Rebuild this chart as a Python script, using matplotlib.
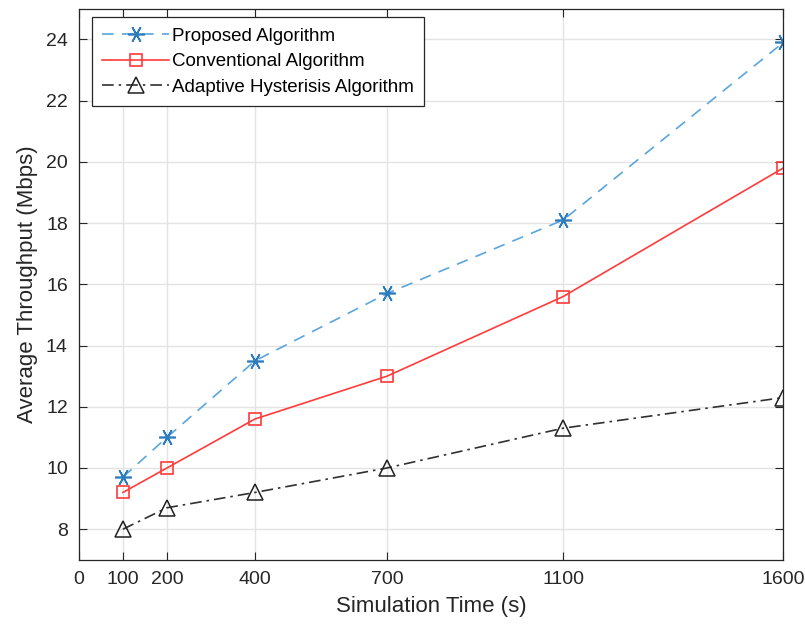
import matplotlib
matplotlib.use('Agg')
import matplotlib.pyplot as plt

plt.rcParams['font.family'] = ['Liberation Sans', 'DejaVu Sans']

sim_time = [100, 200, 400, 700, 1100, 1600]
proposed = [9.7, 11.0, 13.5, 15.7, 18.1, 23.9]
conventional = [9.2, 10.0, 11.6, 13.0, 15.6, 19.8]
adaptive = [8.0, 8.7, 9.2, 10.0, 11.3, 12.3]

xticks = [0, 100, 200, 400, 700, 1100, 1600]
yticks = [8, 10, 12, 14, 16, 18, 20, 22, 24]

fig = plt.figure(figsize=(8.05, 6.29), dpi=100)
ax = fig.add_axes([0.098, 0.110, 0.875, 0.876])

# asterisk marker like matlab '*'
ax.plot(sim_time, proposed, '--', color='#5aa6dc', lw=1.2, dashes=(7, 5),
        marker=(6, 2, 30), ms=12, mec='#2b7bbd', mfc='#2b7bbd', mew=1.2,
        label='Proposed Algorithm')
ax.plot(sim_time, conventional, '-', color='#ff3b3b', lw=1.2,
        marker='s', ms=9, mec='#ff3b3b', mfc='none', mew=1.2,
        label='Conventional Algorithm')
ax.plot(sim_time, adaptive, '-.', color='#303030', lw=1.2, dashes=(7, 3, 1.5, 3),
        marker='^', ms=12, mec='#202020', mfc='none', mew=1.1,
        label='Adaptive Hysterisis Algorithm')

ax.set_xlim(0, 1600)
ax.set_ylim(7, 25)
ax.set_xticks(xticks)
ax.set_yticks(yticks)
ax.tick_params(direction='in', top=True, right=True, labelsize=14,
               length=6, width=0.8, colors='#262626', pad=8)
ax.grid(True, color='#e3e3e3', lw=1.0)
ax.set_axisbelow(True)
for s in ax.spines.values():
    s.set_color('#262626')
    s.set_linewidth(0.9)

ax.set_xlabel('Simulation Time (s)', fontsize=16, color='#262626', labelpad=6)
ax.set_ylabel('Average Throughput (Mbps)', fontsize=16, color='#262626', labelpad=6)

leg = ax.legend(loc='upper left', bbox_to_anchor=(0.018, 0.985), fontsize=13.5,
                frameon=True, fancybox=False, framealpha=1, edgecolor='#262626',
                handlelength=3.6, handletextpad=0.15, borderpad=0.55,
                labelspacing=0.45, borderaxespad=0)
leg.get_frame().set_linewidth(0.9)

fig.savefig('out.png', dpi=100)
